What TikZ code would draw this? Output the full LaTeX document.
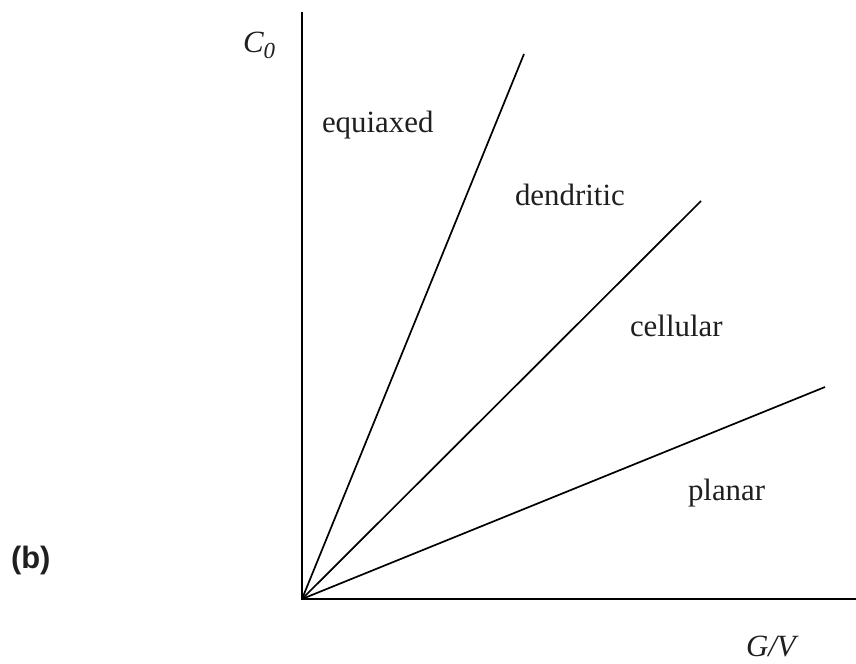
\documentclass[tikz,border=0pt]{standalone}
\usepackage{fontspec}
\setmainfont{Liberation Serif}
\newfontfamily\arialbold{Liberation Sans}[UprightFont=* Bold]
\begin{document}
\begin{tikzpicture}[x=1bp,y=-1bp,
  axisline/.style={line width=1.8bp, black},
  boundary/.style={line width=1.7bp, black},
  lbl/.style={anchor=base west, inner sep=0pt, outer sep=0pt, font=\fontsize{31}{37}\selectfont, text=black!88}]
\useasboundingbox (0,0) rectangle (856,664);
\coordinate (origin) at (302,599);
\coordinate (ytop) at (302,12);
\coordinate (xend) at (856,599);
\coordinate (e1) at (524,54);
\coordinate (e2) at (701,201);
\coordinate (e3) at (825,387);
\draw[axisline] (ytop) -- (origin) -- (xend);
\draw[boundary] (origin) -- (e1);
\draw[boundary] (origin) -- (e2);
\draw[boundary] (origin) -- (e3);
\node[lbl] (c0) at (243,53) {\itshape C\raisebox{-6bp}{\fontsize{23}{27}\selectfont 0}};
\node[lbl] (equiaxed) at (322,133) {equiaxed};
\node[lbl] (dendritic) at (515,205) {dendritic};
\node[lbl] (cellular) at (630,336) {cellular};
\node[lbl] (planar) at (688,500) {planar};
\node[lbl] (gv) at (746,656) {\itshape G/V};
\node[lbl, font=\fontsize{31}{37}\arialbold] (b) at (11,568) {(b)};
\end{tikzpicture}
\end{document}
